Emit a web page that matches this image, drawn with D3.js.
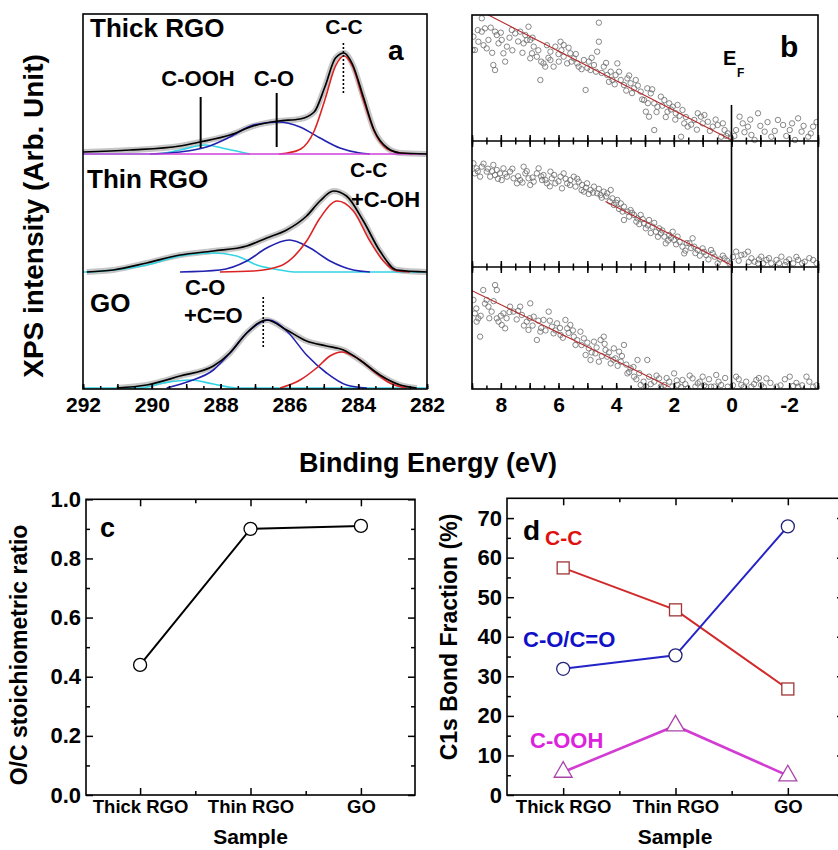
<!DOCTYPE html>
<html>
<head>
<meta charset="utf-8">
<script src="https://cdn.jsdelivr.net/npm/d3@7"></script>
<style>
body { margin: 0; background: #fff; }
text { font-family: "Liberation Sans", Arial, sans-serif; font-weight: bold; }
</style>
</head>
<body>
<svg id="fig" width="838" height="850"></svg>
<script>
var FONT = '"Liberation Sans", Arial, sans-serif';
var samples = ["Thick RGO", "Thin RGO", "GO"];

// panel a: C1s spectra, [binding energy (eV), intensity]
var thickEnvelope = [[292,2],[290.63,4],[289.18,8],[288.6,12],[287.73,19],[287.05,28],[286.32,33],[285.69,35],[285.28,42],[284.97,67],[284.66,96],[284.41,101],[284.17,90],[283.85,57],[283.54,24],[283.15,6],[282.77,1],[282,0]];
var thickCC = [[286.3,0],[286.06,1],[285.67,5],[285.28,23],[284.97,54],[284.66,88],[284.41,98],[284.17,88],[283.85,54],[283.54,23],[283.15,5],[282.77,1],[282.4,0]];
var thickCO = [[290.05,0],[289.18,2],[288.41,7],[287.73,17],[287.05,29],[286.32,32],[285.69,27],[285.11,16],[284.53,6],[283.95,1],[283.66,0]];
var thickCOOH = [[292,0],[289.86,0],[289.18,4],[288.45,9],[287.82,5],[287.15,0]];
var thickBase = [[292,0],[282,0]];

var thinEnvelope = [[291.89,0],[291.12,2],[290.15,9],[289.18,17],[288.21,21],[287.24,26],[286.66,34],[286.08,42],[285.5,56],[285.11,71],[284.72,81],[284.34,76],[283.85,51],[283.37,21],[282.88,2],[282,0]];
var thinCC = [[288.02,0],[287.05,1],[286.27,6],[285.5,31],[285.11,54],[284.61,71],[284.14,61],[283.66,31],[283.27,11],[282.88,1],[282.49,0]];
var thinCO = [[289.18,0],[288.02,2],[287.24,11],[286.66,24],[286.0,32],[285.4,24],[284.82,11],[284.14,2],[283.66,0]];
var thinCOOH = [[292,0],[291.89,0],[291.12,2],[290.15,7],[289.18,16],[288.21,19],[287.53,16],[286.95,7],[286.27,2],[285.79,0],[282,0]];

var goEnvelope = [[291.02,0],[290.15,3],[289.18,12],[288.21,22],[287.73,35],[287.24,55],[286.66,68],[286.08,58],[285.5,47],[284.92,42],[284.43,38],[283.95,28],[283.37,13],[282.78,3],[282.3,0]];
var goCC = [[286.27,0],[285.69,8],[285.21,20],[284.82,32],[284.48,36],[284.04,30],[283.56,17],[283.08,5],[282.59,0]];
var goCO = [[289.57,0],[288.89,7],[288.21,18],[287.73,35],[287.24,55],[286.61,68],[286.08,57],[285.5,33],[284.92,15],[284.34,3],[283.75,0]];
var goCOOH = [[292,0],[290.34,0],[289.66,5],[288.89,8],[288.21,4],[287.53,0],[282,0]];

var spectraOffset = [235, 117, 1];
// peak markers: [energy, from, to, spectrum index, dotted]
var peakMarks = [[284.43, 61, 111, 0, 1], [288.58, 6, 57, 0, 0], [286.37, 7, 61, 0, 0], [286.76, 41, 92, 2, 1]];
var aTicks = [292, 290, 288, 286, 284, 282];

// panel b: valence band, [binding energy (eV), intensity]
var vbThick = [[8.66,97.4],[8.55,89.4],[8.66,86.8],[8.95,82.8],[8.78,78.8],[8.9,72.2],[8.98,72.2],[8.49,73.5],[8.43,80.2],[8.14,84.1],[8.2,86.8],[8.08,77.5],[7.97,80.2],[7.79,74.9],[7.91,69.6],[7.85,63.0],[8.2,56.3],[8.26,60.3],[7.62,88.1],[7.5,85.4],[7.33,86.8],[7.15,84.1],[7.04,90.7],[6.98,80.2],[7.21,77.5],[6.86,74.9],[6.92,69.6],[6.75,66.9],[6.98,65.6],[6.63,48.4],[6.52,61.6],[6.46,59.0],[6.28,64.3],[6.28,70.9],[6.11,74.9],[5.93,78.8],[5.82,76.2],[6.17,59.0],[5.99,63.0],[5.82,66.9],[5.7,61.6],[5.59,69.6],[5.47,65.6],[5.35,61.6],[5.3,59.0],[5.12,64.3],[5.06,40.5],[4.95,63.0],[4.89,56.3],[4.77,60.3],[4.66,70.9],[4.6,78.8],[4.6,93.9],[4.43,59.0],[4.31,52.4],[4.19,55.0],[4.13,48.4],[4.02,52.4],[3.96,61.6],[3.84,48.4],[3.73,44.4],[3.61,49.7],[3.5,45.8],[3.38,41.8],[3.32,48.4],[3.15,39.2],[3.03,32.5],[2.92,41.8],[2.8,37.8],[2.97,23.3],[2.86,19.3],[2.68,29.9],[2.57,27.2],[2.45,35.2],[2.33,32.5],[2.22,23.3],[2.16,29.9],[2.04,27.2],[1.93,22.0],[1.87,28.6],[1.7,24.6],[1.64,14.0],[1.52,11.4],[1.29,16.7],[1.17,22.0],[1.06,19.3],[0.94,20.6],[0.82,15.3],[0.65,11.4],[0.48,12.7],[0.24,8.7],[0.13,6.1],[0.36,3.4],[0.01,2.1],[-0.16,8.7],[-0.28,19.3],[-0.39,14.0],[-0.57,11.4],[-0.69,4.8],[-0.92,22.0],[-1.15,7.4],[-1.38,3.4],[-1.61,16.7],[-1.79,12.7],[-2.02,8.7],[-2.31,18.0],[-2.43,7.4],[-2.66,3.4],[-2.83,11.4],[-0.8,0.8],[-2.2,0.8],[2.68,8.7],[1.75,3.4],
    [8.8,88],[8.6,76],[8.35,90],[8.3,70],[8.0,86],[7.7,82],[7.6,72],[7.4,79],[7.25,70],[7.1,80],[6.9,82],[6.7,72],[6.6,63],[6.4,76],[6.35,66],[6.0,69],[5.9,72],[5.65,74],[5.55,63],[5.4,69],[5.2,57],[5.0,58],[4.85,66],[4.7,55],[4.5,54],[4.35,62],[4.25,47],[4.05,45],[3.9,55],[3.65,40],[3.55,52],[3.45,38],[3.25,44],[3.1,33],[2.9,30],[2.75,41],[2.6,23],[2.4,28],[2.28,19],[2.1,25],[1.95,17],[1.8,20],[1.58,19],[1.4,13],[1.2,9],[1.0,14],[0.75,8],[0.55,17],[0.3,14],[0.18,4],[-0.1,4],[-0.45,7],[-0.65,17],[-1.0,12],[-1.25,15],[-1.5,8],[-1.9,4],[-2.1,14],[-2.5,12],[-2.75,6],[-2.95,15]];
var vbThin = [[8.95,82.3],[8.84,78.3],[8.9,74.3],[8.66,79.6],[8.72,71.7],[8.49,75.7],[8.37,71.7],[8.26,81.0],[8.14,77.0],[8.2,73.0],[8.03,74.3],[7.91,78.3],[7.97,69.0],[7.79,71.7],[7.68,75.7],[7.56,70.4],[7.44,66.4],[7.33,69.0],[7.21,79.6],[7.15,74.3],[7.04,70.4],[6.98,65.1],[6.86,67.7],[6.75,74.3],[6.69,78.3],[6.57,69.0],[6.52,73.0],[6.4,66.4],[6.28,75.7],[6.23,70.4],[6.11,66.4],[5.93,71.7],[5.88,62.4],[5.82,74.3],[5.7,66.4],[5.59,69.0],[5.47,71.7],[5.41,63.8],[5.3,67.7],[5.18,65.1],[5.12,59.8],[5.01,66.4],[4.89,61.1],[4.77,63.8],[4.66,58.5],[4.54,57.1],[4.43,59.8],[4.31,58.5],[4.19,61.1],[4.13,54.5],[4.08,49.2],[3.96,53.2],[3.84,50.5],[3.73,47.9],[3.73,37.3],[3.61,43.9],[3.5,45.2],[3.38,41.3],[3.26,38.6],[3.15,41.3],[3.03,34.7],[2.97,30.7],[2.86,37.3],[2.74,32.0],[2.62,28.0],[2.51,30.7],[2.45,26.7],[2.33,24.1],[2.28,18.8],[2.16,25.4],[2.04,28.0],[1.99,21.4],[1.87,24.1],[1.7,16.1],[1.64,10.8],[1.46,18.8],[1.35,22.8],[1.29,16.1],[1.17,13.5],[1.0,14.8],[0.88,9.5],[0.71,13.5],[0.59,8.2],[0.48,2.9],[0.24,6.9],[0.07,2.9],[-0.16,12.2],[-0.34,9.5],[-0.57,12.2],[-0.69,6.9],[-0.8,4.2],[-1.03,8.2],[-1.21,5.6],[-1.38,2.9],[-1.56,5.6],[-1.73,8.2],[-1.9,4.2],[-2.14,2.9],[-2.31,5.6],[-2.54,4.2],[-2.83,5.6],[-0.92,2.9],[-1.85,1.6],
    [8.8,76],[8.6,82],[8.45,78],[8.3,76],[8.1,70],[7.85,74],[7.6,78],[7.4,72],[7.25,67],[7.1,76],[6.9,71],[6.6,72],[6.45,69],[6.3,64],[6.15,73],[6.0,68],[5.75,70],[5.6,65],[5.35,70],[5.2,61],[5.05,63],[4.95,58],[4.8,59],[4.6,62],[4.5,55],[4.35,56],[4.22,52],[4.0,51],[3.9,46],[3.78,44],[3.55,40],[3.45,43],[3.3,36],[3.2,34],[3.08,38],[2.9,33],[2.8,27],[2.68,35],[2.55,24],[2.4,29],[2.2,21],[2.1,23],[1.92,18],[1.8,20],[1.6,13],[1.55,19],[1.4,15],[1.25,11],[1.1,9],[0.95,12],[0.8,6],[0.65,11],[0.4,6],[0.3,9],[0.15,5],[-0.05,8],[-0.25,5],[-0.45,10],[-0.6,4],[-0.95,6],[-1.1,3],[-1.3,7],[-1.65,3],[-2.0,6],[-2.25,8],[-2.45,3],[-2.7,7],[-2.95,3]];
var vbGO = [[8.95,73.0],[8.9,62.0],[8.78,57.9],[8.84,55.2],[8.72,42.9],[8.61,81.1],[8.49,73.0],[8.43,67.5],[8.2,85.2],[8.14,81.1],[8.32,63.4],[8.14,57.9],[8.08,55.2],[7.97,52.5],[7.85,49.7],[7.91,62.0],[7.68,67.5],[7.56,63.4],[7.33,67.5],[7.27,60.7],[7.1,55.2],[6.98,70.2],[7.04,48.4],[6.86,59.3],[6.75,40.2],[6.63,47.0],[6.52,56.6],[6.34,63.4],[6.23,51.1],[6.17,45.6],[6.05,53.8],[5.93,44.3],[5.76,56.6],[5.7,49.7],[5.59,52.5],[5.47,42.9],[5.41,36.1],[5.24,47.0],[5.12,41.5],[5.06,27.9],[4.95,33.3],[4.89,23.8],[4.77,38.8],[4.72,29.2],[4.6,22.4],[4.54,40.2],[4.43,42.9],[4.37,32.0],[4.31,26.5],[4.19,21.0],[4.08,33.3],[4.02,25.1],[3.9,30.6],[3.84,22.4],[3.73,36.1],[3.61,12.8],[3.5,16.9],[3.38,10.1],[3.26,23.8],[3.15,3.3],[2.97,1.9],[2.92,23.8],[2.86,10.1],[2.68,6.0],[2.51,8.7],[2.33,3.3],[2.16,6.0],[1.99,12.8],[1.87,3.3],[1.7,7.4],[1.52,0.5],[1.35,8.7],[1.17,4.6],[1.0,10.1],[0.88,1.9],[0.71,1.9],[0.53,11.5],[0.36,3.3],[0.13,1.9],[-0.16,10.1],[-0.34,3.3],[-0.51,6.0],[-0.69,1.9],[-0.86,7.4],[-1.03,3.3],[-1.21,8.7],[-1.56,1.9],[-2.02,10.1],[-2.14,2.5],[-2.31,1.9],[-2.6,10.1],[-2.83,1.9],
    [8.85,66],[8.7,60],[8.55,70],[8.4,58],[8.25,72],[8.0,60],[7.8,58],[7.7,63],[7.45,57],[7.4,64],[7.2,52],[7.0,58],[6.9,52],[6.7,56],[6.6,50],[6.45,48],[6.3,56],[6.1,48],[5.95,50],[5.85,42],[5.65,46],[5.5,48],[5.35,40],[5.2,36],[5.0,38],[4.85,30],[4.68,34],[4.5,27],[4.4,37],[4.25,30],[4.1,24],[3.95,19],[3.8,27],[3.65,20],[3.55,14],[3.4,18],[3.3,8],[3.2,13],[3.05,6],[2.8,4],[2.6,11],[2.45,2],[2.25,9],[2.05,2],[1.9,7],[1.75,1.5],[1.6,4],[1.45,11],[1.25,2],[1.1,6],[0.95,3],[0.78,8],[0.6,2],[0.45,6],[0.22,9],[-0.05,3],[-0.25,8],[-0.42,1.5],[-0.78,4],[-0.95,9],[-1.12,1.5],[-1.35,5],[-1.7,3],[-1.85,8],[-2.25,5],[-2.45,3],[-2.7,6],[-2.95,3]];
var vbFits = [[[8.43,100],[0.0,0.8]], [[4.37,51.9],[0.01,1.6]], [[9.0,80.6],[2.16,1.9]]];
var efLineTop = [28.6, 100, 100];
var bTicks = [8, 6, 4, 2, 0, -2];

// panel c
var ocRatio = [0.44, 0.90, 0.91];
var cTicks = [0, 0.2, 0.4, 0.6, 0.8, 1.0];

// panel d
var fracCC = [57.4, 46.8, 26.8];
var fracCO = [31.9, 35.3, 67.9];
var fracCOOH = [5.8, 17.5, 4.9];
var dTicks = [0, 10, 20, 30, 40, 50, 60, 70];

var svg = d3.select("#fig");
svg.append("rect").attr("width", 838).attr("height", 850).attr("fill", "#fff");

function frame(x0, y0, x1, y1) {
    svg.append("rect").attr("x", x0).attr("y", y0)
        .attr("width", x1 - x0).attr("height", y1 - y0)
        .attr("fill", "none").attr("stroke", "#000").attr("stroke-width", 1.6);
}

function axis(a, tx, ty, fs) {
    var g = svg.append("g").attr("transform", "translate(" + tx + "," + ty + ")").call(a);
    g.select(".domain").remove();
    g.attr("font-family", FONT).attr("font-size", fs || 10).attr("font-weight", "bold");
    g.selectAll("line").attr("stroke", "#000").attr("stroke-width", 1.5);
    g.selectAll("text").attr("fill", "#000");
    return g;
}

function label(txt, x, y, fs, anchor, color) {
    return svg.append("text").attr("x", x).attr("y", y)
        .attr("font-size", fs).attr("text-anchor", anchor || "start")
        .attr("fill", color || "#000").text(txt);
}

// ---------- panel a ----------
var xA = d3.scaleLinear().domain([292, 282]).range([83, 427]);
var yA = d3.scaleLinear().domain([0, 375]).range([389, 14]);

svg.append("clipPath").attr("id", "clipA").append("rect")
    .attr("x", 83).attr("y", 14).attr("width", 344).attr("height", 375);
var gA = svg.append("g").attr("clip-path", "url(#clipA)");

var spectra = [
    {env: thickEnvelope, cc: thickCC, co: thickCO, cooh: thickCOOH, base: thickBase},
    {env: thinEnvelope, cc: thinCC, co: thinCO, cooh: thinCOOH},
    {env: goEnvelope, cc: goCC, co: goCO, cooh: goCOOH}
];

spectra.forEach(function(s, i) {
    var off = spectraOffset[i];
    var line = d3.line()
        .x(function(d) { return xA(d[0]); })
        .y(function(d) { return yA(d[1] + off); })
        .curve(d3.curveMonotoneX);
    gA.append("path").attr("d", line(s.env)).attr("fill", "none")
        .attr("stroke", "#c6c6c6").attr("stroke-width", 6);
    gA.append("path").attr("d", line(s.cooh)).attr("fill", "none")
        .attr("stroke", "#35d4e4").attr("stroke-width", 1.6);
    gA.append("path").attr("d", line(s.co)).attr("fill", "none")
        .attr("stroke", "#2222b0").attr("stroke-width", 1.6);
    gA.append("path").attr("d", line(s.cc)).attr("fill", "none")
        .attr("stroke", "#dc2222").attr("stroke-width", 1.6);
    if (s.base) {
        gA.append("path").attr("d", line(s.base)).attr("fill", "none")
            .attr("stroke", "#d040d8").attr("stroke-width", 1.6);
    }
    gA.append("path").attr("d", line(s.env)).attr("fill", "none")
        .attr("stroke", "#000").attr("stroke-width", 1.7);
});

peakMarks.forEach(function(m) {
    var off = spectraOffset[m[3]];
    gA.append("line")
        .attr("x1", xA(m[0])).attr("x2", xA(m[0]))
        .attr("y1", yA(m[1] + off)).attr("y2", yA(m[2] + off))
        .attr("stroke", "#000")
        .attr("stroke-width", m[4] ? 1.6 : 2)
        .attr("stroke-dasharray", m[4] ? "2,2" : null);
});

frame(83, 14, 427, 389);
axis(d3.axisBottom(xA).tickValues(d3.range(282, 292.01, 0.5)).tickSize(-3).tickFormat(""), 0, 389);
axis(d3.axisBottom(xA).tickValues(d3.range(282, 292.01, 1)).tickSize(-5).tickFormat(""), 0, 389);
axis(d3.axisBottom(xA).tickValues(aTicks).tickSize(-5).tickPadding(8).tickFormat(d3.format("d")), 0, 389, 21);

label("Thick RGO", 90, 37, 26);
label("C-C", 344, 34, 21, "middle");
label("a", 388, 60, 28);
label("C-OOH", 198, 86, 22, "middle");
label("C-O", 274, 86, 22, "middle");
label("Thin RGO", 87, 188, 26);
label("C-C", 350, 177, 21);
label("+C-OH", 351, 207, 22);
label("GO", 90, 312, 26);
label("C-O", 185, 295, 22);
label("+C=O", 184, 323, 22);

// ---------- panel b ----------
var xB = d3.scaleLinear().domain([9, -3]).range([472, 818]);
var bTop = [15, 141, 267];
var bBot = [141, 267, 389];
var vbSets = [vbThick, vbThin, vbGO];

svg.append("clipPath").attr("id", "clipB").append("rect")
    .attr("x", 472).attr("y", 15).attr("width", 346).attr("height", 374);
var gB = svg.append("g").attr("clip-path", "url(#clipB)");

vbSets.forEach(function(pts, i) {
    var yB = d3.scaleLinear().domain([0, 100]).range([bBot[i], bTop[i]]);
    gB.append("g").selectAll("circle").data(pts).enter().append("circle")
        .attr("cx", function(d) { return xB(d[0]); })
        .attr("cy", function(d) { return yB(d[1]); })
        .attr("r", 2.7)
        .attr("fill", "none").attr("stroke", "#6a6a6a").attr("stroke-width", 0.8);
    var fit = d3.line().x(function(d) { return xB(d[0]); }).y(function(d) { return yB(d[1]); });
    gB.append("path").attr("d", fit(vbFits[i])).attr("fill", "none")
        .attr("stroke", "#b52a2a").attr("stroke-width", 1.1);
    gB.append("line").attr("x1", xB(0)).attr("x2", xB(0))
        .attr("y1", yB(0)).attr("y2", yB(efLineTop[i]))
        .attr("stroke", "#000").attr("stroke-width", 1.6);

    axis(d3.axisBottom(xB).tickValues(d3.range(-3, 9.01, 0.5)).tickSize(-3.5).tickFormat(""), 0, bBot[i]);
    axis(d3.axisBottom(xB).tickValues(d3.range(-3, 9.01, 1)).tickSize(-6).tickFormat(""), 0, bBot[i]);
    if (i > 0) {
        axis(d3.axisTop(xB).tickValues(d3.range(-3, 9.01, 0.5)).tickSize(-3.5).tickFormat(""), 0, bTop[i]);
        axis(d3.axisTop(xB).tickValues(d3.range(-3, 9.01, 1)).tickSize(-6).tickFormat(""), 0, bTop[i]);
        svg.append("line").attr("x1", 472).attr("x2", 818)
            .attr("y1", bTop[i]).attr("y2", bTop[i])
            .attr("stroke", "#000").attr("stroke-width", 1.6);
    }
});

frame(472, 15, 818, 389);
axis(d3.axisBottom(xB).tickValues(bTicks).tickSize(0).tickPadding(8).tickFormat(function(d) { return String(d); }), 0, 389, 21);

label("b", 780, 57, 30);
label("E", 723, 65, 20);
label("F", 737, 77, 12);

// common axis labels
svg.append("text").attr("transform", "translate(43,216) rotate(-90)")
    .attr("text-anchor", "middle").attr("font-size", 28).text("XPS intensity (Arb. Unit)");
label("Binding Energy (eV)", 428, 472, 27, "middle");

// ---------- panel c ----------
var xC = d3.scalePoint().domain(samples).range([86, 415]).padding(0.49);
var yC = d3.scaleLinear().domain([0, 1]).range([795, 499.3]);
var midC = [(xC(samples[0]) + xC(samples[1])) / 2, (xC(samples[1]) + xC(samples[2])) / 2];

function catAxes(x, y, mids, left, right, top, bottom, yMajor, yMinor, yFmt, ylabFs) {
    axis(d3.axisBottom(x).tickSize(-7).tickPadding(5), 0, bottom, 18.5);
    axis(d3.axisTop(x).tickSize(-7).tickFormat(""), 0, top);
    var idt = d3.scaleIdentity();
    axis(d3.axisBottom(idt).tickValues(mids).tickSize(-4).tickFormat(""), 0, bottom);
    axis(d3.axisTop(idt).tickValues(mids).tickSize(-4).tickFormat(""), 0, top);
    axis(d3.axisLeft(y).tickValues(yMajor).tickSize(-7).tickPadding(5).tickFormat(yFmt), left, 0, ylabFs);
    axis(d3.axisLeft(y).tickValues(yMinor).tickSize(-4).tickFormat(""), left, 0);
    axis(d3.axisRight(y).tickValues(yMajor).tickSize(-7).tickFormat(""), right, 0);
    axis(d3.axisRight(y).tickValues(yMinor).tickSize(-4).tickFormat(""), right, 0);
}

var lineC = d3.line().x(function(d, i) { return xC(samples[i]); }).y(function(d) { return yC(d); });
svg.append("path").attr("d", lineC(ocRatio)).attr("fill", "none")
    .attr("stroke", "#000").attr("stroke-width", 2);
svg.append("g").selectAll("circle").data(ocRatio).enter().append("circle")
    .attr("cx", function(d, i) { return xC(samples[i]); })
    .attr("cy", function(d) { return yC(d); })
    .attr("r", 6.5).attr("fill", "#fff").attr("stroke", "#000").attr("stroke-width", 1.3);

frame(86, 499.3, 415, 795);
catAxes(xC, yC, midC, 86, 415, 499.3, 795, cTicks, d3.range(0.1, 1, 0.2), d3.format(".1f"), 22);

label("c", 100, 537, 27);
label("Sample", 250.5, 844, 21, "middle");
svg.append("text").attr("transform", "translate(26.5,655) rotate(-90)")
    .attr("text-anchor", "middle").attr("font-size", 23).text("O/C stoichiometric ratio");

// ---------- panel d ----------
var xD = d3.scalePoint().domain(samples).range([507, 844]).padding(0.5);
var yD = d3.scaleLinear().domain([0, 75]).range([795, 498.3]);
var midD = [(xD(samples[0]) + xD(samples[1])) / 2, (xD(samples[1]) + xD(samples[2])) / 2];
var lineD = d3.line().x(function(d, i) { return xD(samples[i]); }).y(function(d) { return yD(d); });

svg.append("path").attr("d", lineD(fracCC)).attr("fill", "none")
    .attr("stroke", "#d22a2a").attr("stroke-width", 2);
svg.append("path").attr("d", lineD(fracCO)).attr("fill", "none")
    .attr("stroke", "#2424c8").attr("stroke-width", 2);
svg.append("path").attr("d", lineD(fracCOOH)).attr("fill", "none")
    .attr("stroke", "#d23cd2").attr("stroke-width", 2.6);

svg.append("g").selectAll("rect").data(fracCC).enter().append("rect")
    .attr("x", function(d, i) { return xD(samples[i]) - 6; })
    .attr("y", function(d) { return yD(d) - 6; })
    .attr("width", 12).attr("height", 12)
    .attr("fill", "#fff").attr("stroke", "#a03434").attr("stroke-width", 1.3);
svg.append("g").selectAll("circle").data(fracCO).enter().append("circle")
    .attr("cx", function(d, i) { return xD(samples[i]); })
    .attr("cy", function(d) { return yD(d); })
    .attr("r", 6.5).attr("fill", "#fff").attr("stroke", "#22227a").attr("stroke-width", 1.3);
svg.append("g").selectAll("path").data(fracCOOH).enter().append("path")
    .attr("d", d3.symbol(d3.symbolTriangle, 140))
    .attr("transform", function(d, i) { return "translate(" + xD(samples[i]) + "," + yD(d) + ")"; })
    .attr("fill", "#fff").attr("stroke", "#a844a8").attr("stroke-width", 1.3);

frame(507, 498.3, 844, 795);
catAxes(xD, yD, midD, 507, 844, 498.3, 795, dTicks, d3.range(5, 70, 10), d3.format("d"), 22);

label("d", 523, 540, 28);
label("C-C", 545, 545, 21, "start", "#e01010");
label("C-O/C=O", 523, 647, 22, "start", "#1010c8");
label("C-OOH", 530, 748, 22, "start", "#dd22dd");
label("Sample", 675, 844, 21, "middle");
svg.append("text").attr("transform", "translate(456.5,637) rotate(-90)")
    .attr("text-anchor", "middle").attr("font-size", 23).text("C1s Bond Fraction (%)");
</script>
</body>
</html>
